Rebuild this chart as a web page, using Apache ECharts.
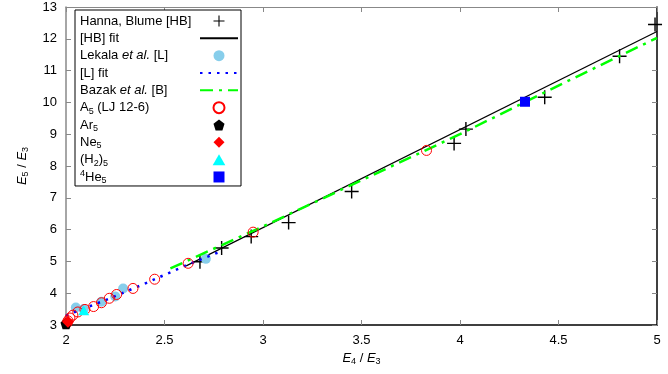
<html>
  <head>
    <meta charset="utf-8" />
    <script src="https://cdn.jsdelivr.net/npm/echarts@6/dist/echarts.min.js"></script>
  </head>
  <body>
    <style>
      html,
      body,
      #main {
        width: 100%;
        height: 100%;
        margin: 0;
      }
    </style>
    <div id="main"></div>
    <script>
      // Hanna, Blume [HB] data points and fit
      const hbX = [2.68, 2.79, 2.94, 3.13, 3.45, 3.97, 4.03, 4.43, 4.81, 4.99];
      const hbY = [4.99, 5.42, 5.78, 6.22, 7.2, 8.71, 9.16, 10.16, 11.45, 12.45];
      const hbFitX = [2.61, 5.0];
      const hbFitY = [4.86, 12.23];

      // Lekala et al. [L] points and fit
      const lekX = [2.05, 2.09, 2.18, 2.25, 2.29, 2.71];
      const lekY = [3.55, 3.5, 3.73, 3.9, 4.15, 5.08];
      const lFitX = [2.0, 2.2, 2.4, 2.6, 2.78];
      const lFitY = [3.3, 3.78, 4.3, 4.85, 5.3];

      // Bazak et al. [B] fit
      const bzX = [2.53, 3.0, 3.5, 4.0, 4.5, 5.0];
      const bzY = [4.78, 6.1, 7.55, 9.0, 10.53, 12.03];

      // A5 (LJ 12-6)
      const a5X = [2.005, 2.01, 2.02, 2.035, 2.06, 2.096, 2.14, 2.18, 2.22, 2.257, 2.34, 2.45, 2.62, 2.95, 3.83];
      const a5Y = [3.06, 3.13, 3.22, 3.31, 3.41, 3.49, 3.58, 3.7, 3.84, 3.96, 4.15, 4.44, 4.94, 5.92, 8.49];

      const ar5 = [2.0, 3.04];
      const ne5 = [2.01, 3.1];
      const h25 = [2.09, 3.46];
      const he5 = [4.33, 10.02];

      const xTicks = { min: 2, max: 5, interval: 0.5 };
      const yTicks = { min: 3, max: 13, interval: 1 };

      const pairs = (xs, ys) => xs.map((x, i) => [x, ys[i]]);

      const legendText = {
        "Hanna, Blume [HB]": "{n|Hanna, Blume [HB]}",
        "[HB] fit": "{n|[HB] fit}",
        "Lekala et al. [L]": "{n|Lekala }{i|et al.}{n| [L]}",
        "[L] fit": "{n|[L] fit}",
        "Bazak et al. [B]": "{n|Bazak }{i|et al.}{n| [B]}",
        "A5 (LJ 12-6)": "{n|A}{s|5}{n| (LJ 12-6)}",
        Ar5: "{n|Ar}{s|5}",
        Ne5: "{n|Ne}{s|5}",
        "(H2)5": "{n|(H}{s|2}{n|)}{s|5}",
        "4He5": "{p|4}{n|He}{s|5}",
      };
      const lineNames = ["[HB] fit", "[L] fit", "Bazak et al. [B]"];

      const font = "Liberation Sans";
      const rich = {
        n: { fontSize: 13, lineHeight: 16, align: "left", fontFamily: font, color: "#000" },
        i: { fontSize: 13, lineHeight: 16, align: "left", fontFamily: font, fontStyle: "italic", color: "#000" },
        s: { fontSize: 9, lineHeight: 7, align: "left", verticalAlign: "bottom", fontFamily: font, color: "#000" },
        p: { fontSize: 9, lineHeight: 7, align: "left", verticalAlign: "top", fontFamily: font, color: "#000" },
      };

      const crossPath = "path://M0,4.5H10V5.5H0Z M4.5,0H5.5V10H4.5Z";
      const pentaPath = "path://M5,0L10,3.8L8.1,10H1.9L0,3.8Z";
      const diamondPath = "path://M5,0L10,5L5,10L0,5Z";
      const trianglePath = "path://M5,0L10,8.7H0Z";
      const squarePath = "path://M0,0H10V10H0Z";

      var chart = echarts.init(document.getElementById("main"));

      var option = {
        animation: false,
        grid: { left: 66, right: 11, top: 7, bottom: 49 },
        xAxis: [
          {
            type: "value",
            min: xTicks.min,
            max: xTicks.max,
            interval: xTicks.interval,
            name: "{i|E}{s|4}{n| / }{i|E}{s|3}",
            nameLocation: "middle",
            nameGap: 22,
            nameTextStyle: { rich: rich },
            axisLine: { lineStyle: { color: "#000", width: 1.5 } },
            axisTick: { inside: true, length: 5, lineStyle: { color: "#888" } },
            axisLabel: { margin: 9, fontSize: 13, color: "#000", fontFamily: font },
            splitLine: { show: false },
          },
          {
            type: "value",
            position: "top",
            min: xTicks.min,
            max: xTicks.max,
            interval: xTicks.interval,
            axisLine: { show: true, lineStyle: { color: "#888" } },
            axisTick: { inside: true, length: 5, lineStyle: { color: "#888" } },
            axisLabel: { show: false },
            splitLine: { show: false },
          },
        ],
        yAxis: [
          {
            type: "value",
            min: yTicks.min,
            max: yTicks.max,
            interval: yTicks.interval,
            name: "{i|E}{s|5}{n| / }{i|E}{s|3}",
            nameLocation: "middle",
            nameRotate: 90,
            nameGap: 36,
            nameTextStyle: { rich: rich },
            axisLine: { show: true, lineStyle: { color: "#888", width: 1.5 } },
            axisTick: { show: true, inside: true, length: 5, lineStyle: { color: "#888" } },
            axisLabel: { margin: 9, fontSize: 13, color: "#000", fontFamily: font },
            splitLine: { show: false },
          },
          {
            type: "value",
            position: "right",
            min: yTicks.min,
            max: yTicks.max,
            interval: yTicks.interval,
            axisLine: { show: true, lineStyle: { color: "#000", width: 1.5 } },
            axisTick: { show: true, inside: true, length: 5, lineStyle: { color: "#888" } },
            axisLabel: { show: false },
            splitLine: { show: false },
          },
        ],
        legend: {
          orient: "vertical",
          left: 75,
          top: 10,
          align: "right",
          itemWidth: 38,
          itemHeight: 11,
          itemGap: 1.33,
          symbolKeepAspect: true,
          padding: [3, 2, 1, 5],
          backgroundColor: "#fff",
          borderColor: "#000",
          borderWidth: 1,
          borderRadius: 0,
          textStyle: { width: 115, height: 16, lineHeight: 16, rich: rich },
          formatter: function (name) {
            return legendText[name];
          },
          data: Object.keys(legendText).map(function (name) {
            return lineNames.indexOf(name) >= 0
              ? { name: name, itemStyle: { color: "rgba(0,0,0,0)", borderWidth: 0, opacity: 0 } }
              : { name: name };
          }),
        },
        series: [
          {
            name: "Hanna, Blume [HB]",
            type: "scatter",
            symbol: crossPath,
            symbolSize: 14,
            symbolKeepAspect: true,
            itemStyle: { color: "#000", opacity: 1 },
            data: pairs(hbX, hbY),
            clip: false,
            z: 2,
          },
          {
            name: "[HB] fit",
            type: "line",
            showSymbol: false,
            symbol: "none",
            lineStyle: { color: "#000", width: 1.2 },
            itemStyle: { color: "#000" },
            data: pairs(hbFitX, hbFitY),
            z: 3,
          },
          {
            name: "Lekala et al. [L]",
            type: "scatter",
            symbol: "circle",
            symbolSize: 10,
            itemStyle: { color: "#87ceeb", opacity: 1 },
            data: pairs(lekX, lekY),
            clip: false,
            z: 4,
          },
          {
            name: "[L] fit",
            type: "line",
            showSymbol: false,
            symbol: "none",
            lineStyle: { color: "#0000ff", width: 2.5, type: [2.5, 6] },
            itemStyle: { color: "#0000ff" },
            data: pairs(lFitX, lFitY),
            z: 5,
          },
          {
            name: "Bazak et al. [B]",
            type: "line",
            showSymbol: false,
            symbol: "none",
            lineStyle: { color: "#00ff00", width: 2.5, type: [13, 6, 3, 6] },
            itemStyle: { color: "#00ff00" },
            data: pairs(bzX, bzY),
            z: 6,
          },
          {
            name: "A5 (LJ 12-6)",
            type: "scatter",
            symbol: "circle",
            symbolSize: 10,
            itemStyle: { color: "transparent", borderColor: "#ff0000", borderWidth: 1, opacity: 1 },
            data: pairs(a5X, a5Y),
            clip: false,
            z: 7,
          },
          {
            name: "Ar5",
            type: "scatter",
            symbol: pentaPath,
            symbolSize: 11,
            symbolKeepAspect: true,
            itemStyle: { color: "#000", opacity: 1 },
            data: [ar5],
            clip: false,
            z: 8,
          },
          {
            name: "Ne5",
            type: "scatter",
            symbol: diamondPath,
            symbolSize: 12,
            symbolKeepAspect: true,
            itemStyle: { color: "#ff0000", opacity: 1 },
            data: [ne5],
            clip: false,
            z: 9,
          },
          {
            name: "(H2)5",
            type: "scatter",
            symbol: trianglePath,
            symbolSize: 11,
            symbolKeepAspect: true,
            itemStyle: { color: "#00ffff", opacity: 1 },
            data: [h25],
            clip: false,
            z: 10,
          },
          {
            name: "4He5",
            type: "scatter",
            symbol: squarePath,
            symbolSize: 10,
            symbolKeepAspect: true,
            itemStyle: { color: "#0000ff", opacity: 1 },
            data: [he5],
            clip: false,
            z: 11,
          },
        ],
      };

      chart.setOption(option);
      window.onresize = chart.resize;
    </script>
  </body>
</html>
